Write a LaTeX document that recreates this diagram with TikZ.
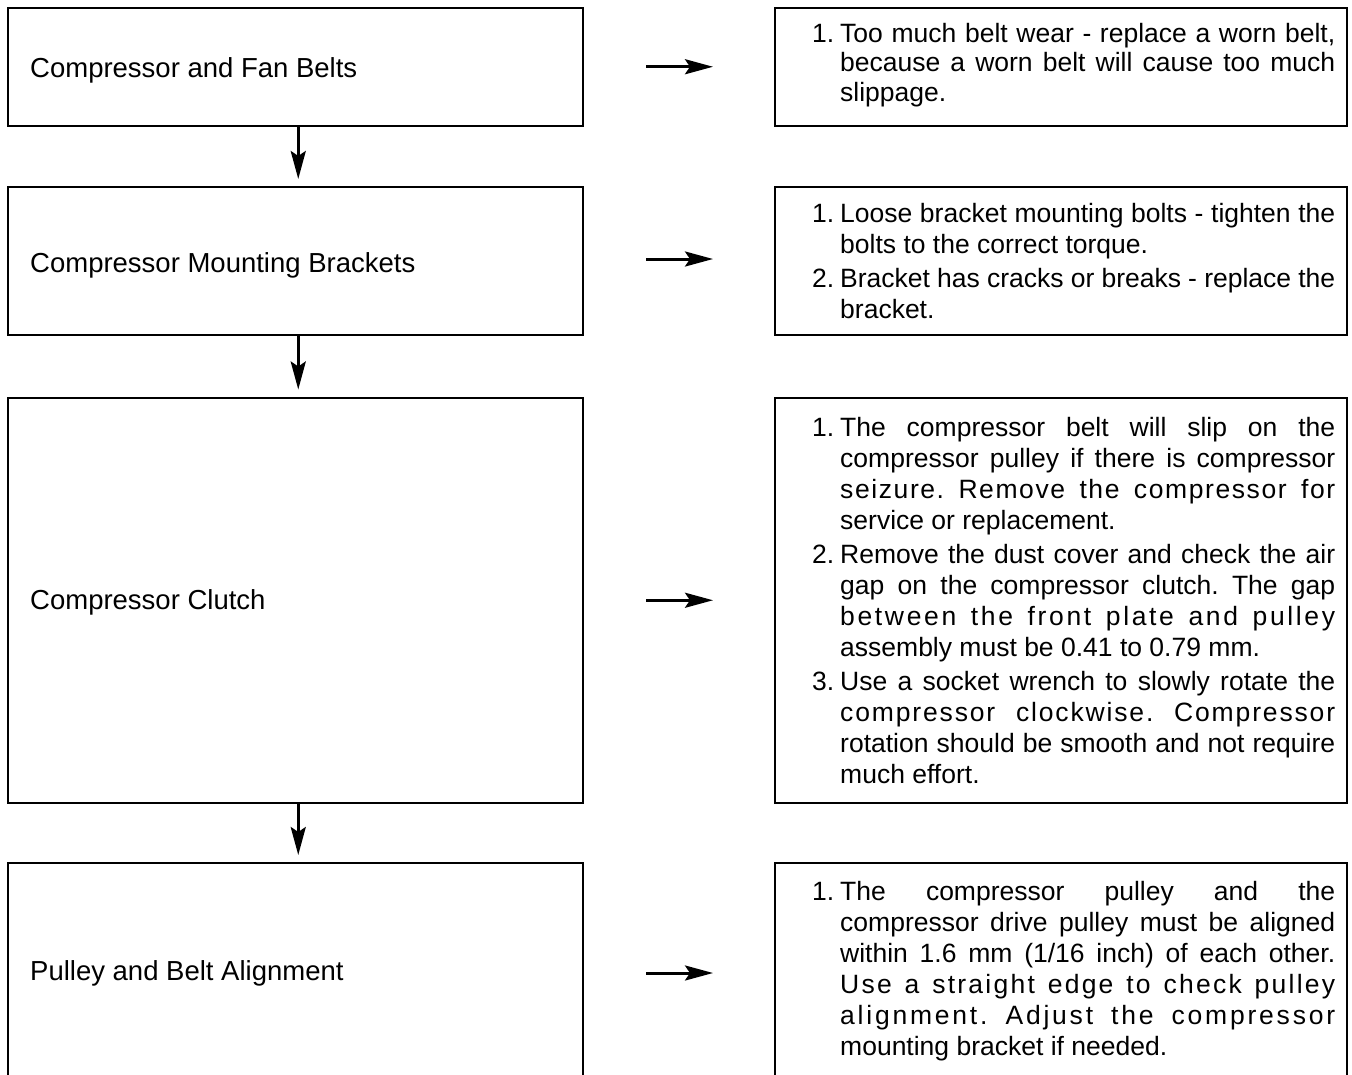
\documentclass[tikz,border=0pt]{standalone}
\usepackage{fontspec}
\setmainfont{Liberation Sans}
\usetikzlibrary{arrows.meta}
\newcommand\LnF[2]{\makebox[28pt][l]{#1}\makebox[495pt][s]{#2}}
\newcommand\LnJ[1]{\hspace*{28pt}\makebox[495pt][s]{#1}}
\newcommand\LnS[2]{\hspace*{28pt}\makebox[495pt][s]{\addfontfeature{LetterSpace=#1}#2}}
\newcommand\LnL[1]{\hspace*{28pt}#1}
\newcommand\rfont[1]{\fontsize{26.5}{#1}\selectfont\frenchspacing}
\begin{document}
\begin{tikzpicture}[x=1pt,y=-1pt,
  box/.style={draw, line width=2pt, inner sep=0pt, outer sep=0pt},
  lbox/.style={box, minimum width=575.5pt},
  rbox/.style={box, minimum width=572pt},
  ltext/.style={anchor=west, inner sep=0pt, font=\fontsize{27.5}{31}\selectfont},
  rtext/.style={anchor=west, inner sep=0pt, align=left, font=\rfont{31}},
  harr/.style={line width=3pt, -{Stealth[length=28pt, width=15pt, inset=5pt]}, shorten <=63pt, shorten >=62pt},
  varr/.style={line width=3pt, -{Stealth[length=28pt, width=15pt, inset=5pt]}, shorten >=8pt}
]
\useasboundingbox (0,0) rectangle (1352,1074);
\clip (0,0) rectangle (1352,1074);

% left boxes
\node[lbox, minimum height=117.5pt] (L1) at (295.25,66.75) {};
\node[lbox, minimum height=148pt]   (L2) at (295.25,261) {};
\node[lbox, minimum height=405.5pt] (L3) at (295.25,600.25) {};
\node[lbox, draw=none, minimum height=220pt] (L4) at (295.25,973) {};
\draw[line width=2pt] (L4.south west) -- (L4.north west) -- (L4.north east) -- (L4.south east);

% right boxes
\node[rbox, minimum height=117.5pt] (R1) at (1061,66.75) {};
\node[rbox, minimum height=148pt]   (R2) at (1061,261) {};
\node[rbox, minimum height=405.5pt] (R3) at (1061,600.25) {};
\node[rbox, draw=none, minimum height=220pt] (R4) at (1061,973) {};
\draw[line width=2pt] (R4.south west) -- (R4.north west) -- (R4.north east) -- (R4.south east);

% left labels
\node[ltext] (l1) at (30,70) {Compressor and Fan Belts};
\node[ltext] (l2) at (30,265) {Compressor Mounting Brackets};
\node[ltext] (l3) at (30,602) {Compressor Clutch};
\node[ltext] (l4) at (30,973) {Pulley and Belt Alignment};

% right texts
\node[rtext, font=\rfont{29.5}] (t1) at (812,65) {%
\LnF{1.}{Too much belt wear - replace a worn belt,}\\
\LnJ{because a worn belt will cause too much}\\
\LnL{slippage.}};

\node[rtext] (t2) at (812,261) {%
\LnF{1.}{Loose bracket mounting bolts - tighten the}\\
\LnL{bolts to the correct torque.}\\[3pt]
\LnF{2.}{Bracket has cracks or breaks - replace the}\\
\LnL{bracket.}};

\node[rtext] (t3) at (812,600.25) {%
\LnF{1.}{The compressor belt will slip on the}\\
\LnJ{compressor pulley if there is compressor}\\
\LnS{6}{seizure. Remove the compressor for}\\
\LnL{service or replacement.}\\[3pt]
\LnF{2.}{Remove the dust cover and check the air}\\
\LnJ{gap on the compressor clutch. The gap}\\
\LnS{10}{between the front plate and pulley}\\
\LnL{assembly must be 0.41 to 0.79 mm.}\\[3pt]
\LnF{3.}{Use a socket wrench to slowly rotate the}\\
\LnS{7}{compressor clockwise. Compressor}\\
\LnJ{rotation should be smooth and not require}\\
\LnL{much effort.}};

\node[rtext] (t4) at (812,971) {%
\LnF{1.}{The compressor pulley and the}\\
\LnJ{compressor drive pulley must be aligned}\\
\LnJ{within 1.6 mm (1/16 inch) of each other.}\\
\LnS{8.5}{Use a straight edge to check pulley}\\
\LnS{10.5}{alignment. Adjust the compressor}\\
\LnL{mounting bracket if needed.}};

% horizontal arrows
\draw[harr] (L1.east) -- (R1.west);
\draw[harr] ([yshift=2pt]L2.east) -- ([yshift=2pt]R2.west);
\draw[harr] (L3.east) -- (R3.west);
\draw[harr] (L4.east) -- (R4.west);

% vertical arrows
\draw[varr] ([xshift=3pt]L1.south) -- ([xshift=3pt]L2.north);
\draw[varr] ([xshift=3pt]L2.south) -- ([xshift=3pt]L3.north);
\draw[varr] ([xshift=3pt]L3.south) -- ([xshift=3pt]L4.north);
\end{tikzpicture}
\end{document}
